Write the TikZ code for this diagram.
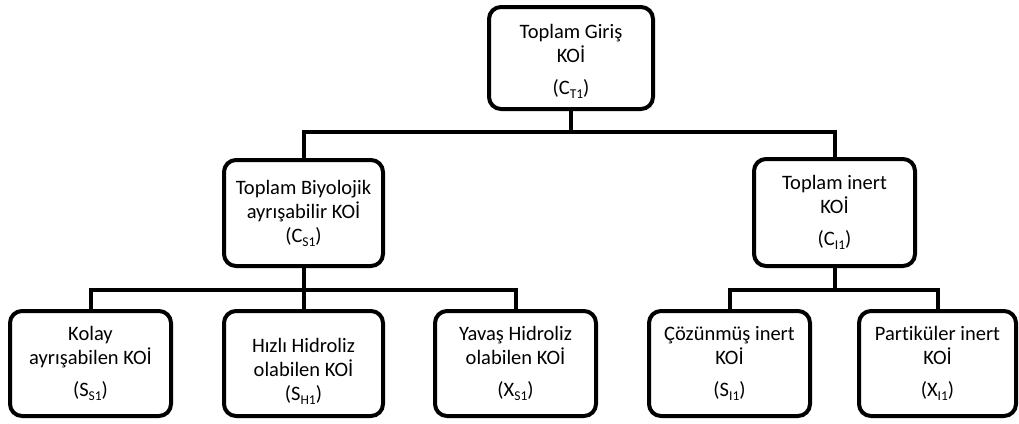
\documentclass[tikz,border=0pt]{standalone}
\usepackage{fontspec}
\setmainfont{Carlito}[Ligatures=NoCommon]
\newcommand{\subx}[1]{\raisebox{-0.4ex}{\fontsize{13.5}{13.5}\selectfont #1}}
\begin{document}
\begin{tikzpicture}[x=1pt,y=-1pt,
  box/.style={draw, line width=4pt, rounded corners=12pt, align=center,
    font=\fontsize{20.5}{24}\selectfont, inner sep=0pt},
  txt/.style={align=center, font=\fontsize{20.5}{24}\selectfont, inner sep=0pt},
  conn/.style={draw, line width=4pt}]
\useasboundingbox (0,0) rectangle (1019,423);
% top
\node[box, minimum width=164pt, minimum height=102pt] (top) at (571,58) {};
\node[txt] (topt) at ([yshift=-3pt]top.center) {Toplam Giriş\\KOİ\\[8pt](C\subx{T1})};
% middle
\node[box, minimum width=159pt, minimum height=106pt] (ml) at (303.5,213)
  {Toplam Biyolojik\\ayrışabilir KOİ\\(C\subx{S1})};
\node[box, minimum width=161pt, minimum height=107pt] (mr) at (834.5,212.5)
  {Toplam inert\\KOİ\\[8pt](C\subx{I1})};
% bottom
\node[box, minimum width=161pt, minimum height=105pt] (ko) at (90.5,363.5)
  {Kolay\\ayrışabilen KOİ\\[8pt](S\subx{S1})};
\node[box, minimum width=159pt, minimum height=105pt] (hi) at (303.5,363.5) {};
\node[txt] (hit) at ([yshift=-8pt]hi.center) {Hızlı Hidroliz\\olabilen KOİ\\(S\subx{H1})};
\node[box, minimum width=161pt, minimum height=105pt] (ya) at (515.5,363.5)
  {Yavaş Hidroliz\\olabilen KOİ\\[8pt](X\subx{S1})};
\node[box, minimum width=161pt, minimum height=105pt] (co) at (729.5,363.5)
  {Çözünmüş inert\\KOİ\\[8pt](S\subx{I1})};
\node[box, minimum width=157pt, minimum height=105pt] (pa) at (937.5,363.5)
  {Partiküler inert\\KOİ\\[8pt](X\subx{I1})};
% connectors
\coordinate (j1) at (571,132);
\coordinate (j2) at (304,290);
\coordinate (j3) at (834.5,290);
\draw[conn] (top.south) -- (j1);
\draw[conn] (ml.north) |- (j1) -| (mr.north);
\draw[conn] (ml.south) -- (ml.south |- j2);
\draw[conn] (ko.north) |- (j2) -| (ya.north);
\draw[conn] (hi.north) -- (hi.north |- j2);
\draw[conn] (mr.south) -- (j3);
\draw[conn] (co.north) |- (j3) -| (pa.north);
\end{tikzpicture}
\end{document}
